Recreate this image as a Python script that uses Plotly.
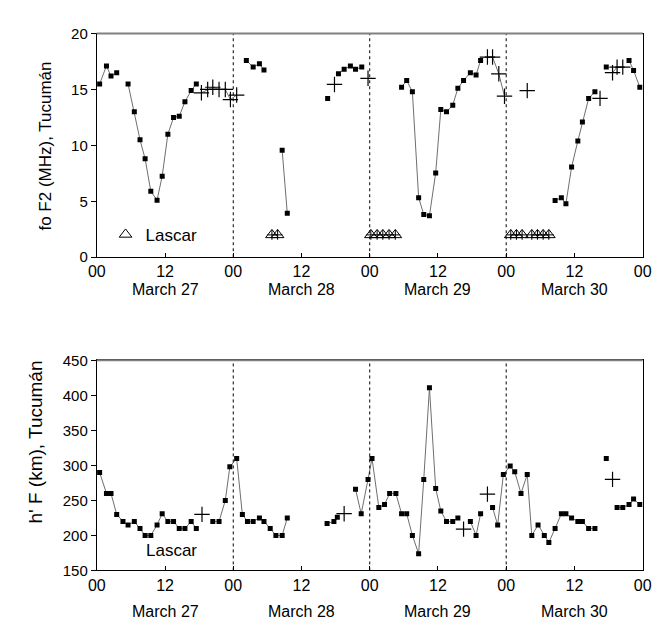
import plotly.graph_objects as go
from plotly.subplots import make_subplots

# ---------------- data (hours since 00 UT, March 27) ----------------
day_boundaries = [24, 48, 72]
tick_hours = [0, 12, 24, 36, 48, 60, 72, 84, 96]
tick_labels = ["00", "12", "00", "12", "00", "12", "00", "12", "00"]
day_names = ["March 27", "March 28", "March 29", "March 30"]
day_centers = [12, 36, 60, 84]

fof2_sq_h = [0.5, 1.7, 2.5, 3.5, None,
             5.5, 6.6, 7.6, 8.5, 9.5, 10.6, 11.5, 12.5, 13.5, 14.5, 15.5, 16.6, 17.5, None,
             26.3, 27.5, 28.6, 29.4, None,
             32.6, 33.5, None,
             40.6, None,
             42.5, 43.5, 44.6, 45.5, 46.6, None,
             53.6, 54.5, 55.5, 56.6, 57.5, 58.5, 59.6, 60.5, 61.5, 62.6, 63.5, 64.5, 65.7, 66.7, 67.5, None,
             80.6, 81.7, 82.5, 83.5, 84.6, 85.4, 86.5, 87.6, None,
             89.6, None,
             93.6, 94.4, 95.5]
fof2_sq_v = [15.5, 17.1, 16.2, 16.5, None,
             15.5, 13.0, 10.5, 8.8, 5.9, 5.1, 7.25, 11.0, 12.5, 12.6, 13.9, 14.9, 15.5, None,
             17.6, 17.0, 17.3, 16.75, None,
             9.56, 3.94, None,
             14.2, None,
             16.4, 16.8, 17.1, 16.8, 17.0, None,
             15.2, 15.8, 14.8, 5.33, 3.83, 3.71, 7.54, 13.2, 13.0, 13.6, 15.1, 15.8, 16.5, 16.3, 17.6, None,
             5.07, 5.33, 4.78, 8.06, 10.4, 12.1, 14.2, 14.8, None,
             17.0, None,
             17.6, 16.7, 15.2]

fof2_cr_h = [18.4, 19.5, 20.4, 21.5, 22.6, 23.5, 24.6, None,
             41.8, None, 47.7, None,
             68.7, 69.6, 70.7, 71.7, None,
             75.7, None, 88.5, None,
             90.7, 91.5, 92.5]
fof2_cr_v = [14.7, 15.0, 15.2, 15.0, 15.0, 14.1, 14.5, None,
             15.45, None, 16.0, None,
             17.9, 17.9, 16.4, 14.4, None,
             14.9, None, 14.2, None,
             16.5, 17.0, 17.0]

lascar_h = [30.8, 31.8, 48.2, 49.3, 50.3, 51.4, 52.5,
            72.8, 73.8, 74.8, 76.5, 77.5, 78.5, 79.5]
lascar_v = [2] * len(lascar_h)

hf_sq_h = [0.5, 1.7, 2.5, 3.5, 4.6, 5.5, 6.6, 7.6, 8.5, 9.5, 10.6, 11.5, 12.5, 13.5, 14.5, 15.5, 16.6, 17.5, None,
           20.4, 21.5, 22.6, 23.4, 24.6, 25.6, 26.5, 27.5, 28.6, 29.4, 30.5, 31.5, 32.6, 33.5, None,
           40.5, 41.7, 42.3, None,
           45.5, 46.5, 47.7, 48.4, 49.6, 50.6, 51.5, 52.6, 53.6, 54.5, 55.5, 56.6, 57.5, 58.5, 59.6, 60.5, 61.5, 62.6, 63.5, None,
           65.7, 66.7, 67.5, None,
           69.6, 70.5, 71.5, 72.7, 73.5, 74.6, 75.7, 76.5, 77.6, 78.7, 79.5, 80.6, 81.7, 82.5, 83.5, 84.6, 85.4, 86.5, 87.6, None,
           89.6, None,
           91.5, 92.5, 93.6, 94.4, 95.5]
hf_sq_v = [290, 260, 260, 230, 220, 215, 220, 210, 200, 200, 215, 231, 220, 220, 210, 210, 220, 210, None,
           220, 220, 250, 298, 310, 230, 220, 220, 225, 220, 210, 200, 200, 225, None,
           217, 220, 226, None,
           266, 231, 280, 310, 240, 244, 260, 260, 231, 231, 200, 174, 280, 411, 267, 235, 220, 220, 225, None,
           220, 200, 231, None,
           240, 215, 287, 299, 291, 260, 287, 200, 215, 200, 190, 210, 231, 231, 225, 220, 220, 210, 210, None,
           310, None,
           240, 240, 244, 252, 244]

hf_cr_h = [18.5, 43.5, 64.5, 68.7, 90.7]
hf_cr_v = [230, 231, 209, 259, 280]

# ---------------- figure ----------------
W, H = 668, 622
fig = make_subplots(rows=2, cols=1, vertical_spacing=0.1)

line_style = dict(color="#6f6f6f", width=1)
sq_marker = dict(symbol="square", size=5, color="black")
cr_marker = dict(symbol="cross-thin", size=11, color="black", line=dict(color="black", width=1.2))

fig.add_trace(go.Scatter(x=fof2_sq_h, y=fof2_sq_v, mode="lines+markers", line=line_style,
                         marker=sq_marker, showlegend=False), row=1, col=1)
fig.add_trace(go.Scatter(x=fof2_cr_h, y=fof2_cr_v, mode="lines+markers", line=line_style,
                         marker=cr_marker, showlegend=False), row=1, col=1)
fig.add_trace(go.Scatter(x=lascar_h, y=lascar_v, mode="markers",
                         marker=dict(symbol="cross-thin", size=7, color="black",
                                     line=dict(color="black", width=1)),
                         showlegend=False), row=1, col=1)
fig.add_trace(go.Scatter(x=lascar_h, y=lascar_v, mode="markers", name="Lascar",
                         marker=dict(symbol="triangle-up-open", size=11, color="black",
                                     line=dict(color="black", width=1)),
                         showlegend=True), row=1, col=1)

fig.add_trace(go.Scatter(x=hf_sq_h, y=hf_sq_v, mode="lines+markers", line=line_style,
                         marker=sq_marker, showlegend=False), row=2, col=1)
fig.add_trace(go.Scatter(x=hf_cr_h, y=hf_cr_v, mode="markers",
                         marker=cr_marker, showlegend=False), row=2, col=1)

font_family = "Liberation Sans, Arial, sans-serif"

xaxis_common = dict(range=[0, 96], tickmode="array", tickvals=tick_hours, ticktext=tick_labels,
                    ticks="inside", ticklen=4, tickcolor="black", showline=True, linecolor="black",
                    linewidth=1, mirror=True, showgrid=False, zeroline=False,
                    tickfont=dict(size=16, color="black", family=font_family),
                    domain=[82 / W, 643 / W])
fig.update_xaxes(**xaxis_common)

fig.update_yaxes(range=[0, 20], tickvals=[0, 5, 10, 15, 20], row=1, col=1,
                 domain=[1 - 247 / H, 1 - 17 / H])
fig.update_yaxes(range=[150, 450], tickvals=[150, 200, 250, 300, 350, 400, 450], row=2, col=1,
                 domain=[1 - 569 / H, 1 - 353 / H])
fig.update_yaxes(ticks="outside", ticklen=5, tickcolor="black", showline=True, linecolor="black",
                 linewidth=1, mirror=True, showgrid=False, zeroline=False,
                 tickfont=dict(size=15, color="black", family=font_family))

shapes = []
for xr, yr in (("x", "y"), ("x2", "y2")):
    for b in day_boundaries:
        shapes.append(dict(type="line", xref=xr, yref=yr + " domain", x0=b, x1=b, y0=0, y1=1,
                           line=dict(color="black", width=1, dash="dot")))
    shapes.append(dict(type="line", xref=xr + " domain", yref=yr + " domain", x0=0, x1=1, y0=1, y1=1,
                       line=dict(color="#808080", width=2)))
fig.update_layout(shapes=shapes)

annotations = []
for name, c in zip(day_names, day_centers):
    annotations.append(dict(x=c, y=0, xref="x", yref="y domain", text=name, showarrow=False,
                            yanchor="middle", yshift=-32,
                            font=dict(size=16, color="black", family=font_family)))
    annotations.append(dict(x=c, y=0, xref="x2", yref="y2 domain", text=name, showarrow=False,
                            yanchor="middle", yshift=-41,
                            font=dict(size=16, color="black", family=font_family)))
annotations.append(dict(x=29 / W, y=1 - 133 / H, xref="paper", yref="paper",
                        xanchor="center", yanchor="middle",
                        text="fo F2 (MHz), Tucumán", textangle=-90, showarrow=False,
                        font=dict(size=17, color="black", family=font_family)))
annotations.append(dict(x=19 / W, y=1 - 437 / H, xref="paper", yref="paper",
                        xanchor="center", yanchor="middle",
                        text="h' F (km), Tucumán", textangle=-90, showarrow=False,
                        font=dict(size=19, color="black", family=font_family)))
annotations.append(dict(x=159 / W, y=1 - 548 / H, xref="paper", yref="paper",
                        xanchor="center", yanchor="middle",
                        text="Lascar", showarrow=False,
                        font=dict(size=17, color="black", family=font_family)))

fig.update_layout(
    width=W, height=H,
    margin=dict(l=0, r=0, t=0, b=0),
    paper_bgcolor="white", plot_bgcolor="white",
    annotations=annotations,
    legend=dict(x=91 / W, y=1 - 224 / H, xanchor="left", yanchor="middle",
                bgcolor="rgba(0,0,0,0)", borderwidth=0,
                font=dict(size=17, color="black", family=font_family)),
    font=dict(family=font_family, color="black"),
)

fig.write_html("out.html")
